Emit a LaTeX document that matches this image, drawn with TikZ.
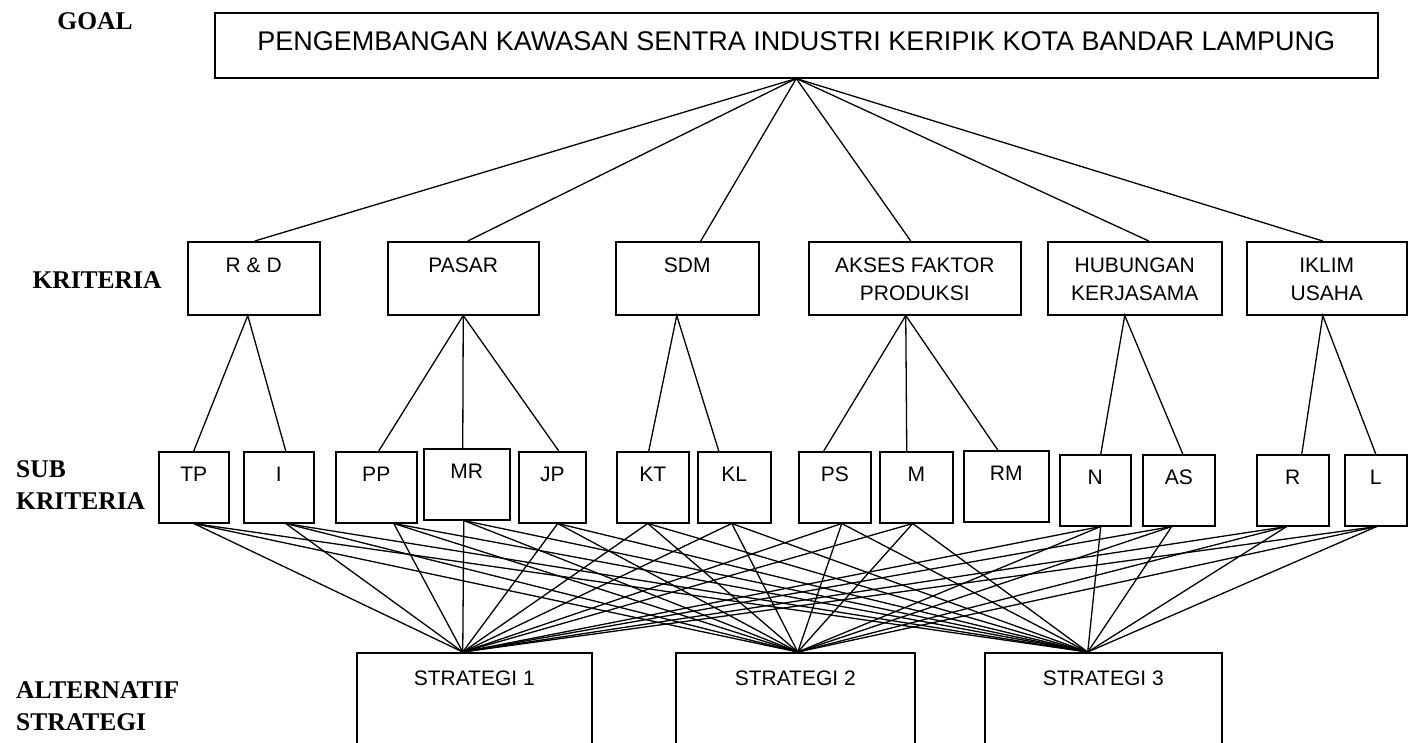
\documentclass[tikz,border=0pt]{standalone}
\usepackage{fontspec}
\setmainfont{Liberation Serif}
\setsansfont{Liberation Sans}
\begin{document}
\begin{tikzpicture}[x=1pt,y=-1pt,
  box/.style={draw,line width=1.5pt,inner sep=0pt,anchor=north west},
  boxtext/.style={font=\sffamily\fontsize{21}{28}\selectfont,align=center,inner sep=0pt,anchor=north},
  level/.style={font=\bfseries\fontsize{25.5}{32}\selectfont,align=left,inner sep=0pt},
  link/.style={line width=1.3pt}]
\useasboundingbox (0,0) rectangle (1411,742);
\clip (0,0) rectangle (1411,742);

\node[level] (goal-lbl) at (95,21) {GOAL};
\node[level] (krit-lbl) at (97,280) {KRITERIA};
\node[level,anchor=west] (sub-lbl) at (16,485) {SUB\\KRITERIA};
\node[level,anchor=west] (alt-lbl) at (16,706) {ALTERNATIF\\STRATEGI};

\node[box,minimum width=1163,minimum height=65,
  label={[boxtext,font=\sffamily\fontsize{27}{30}\selectfont,yshift=-19pt]north:PENGEMBANGAN KAWASAN SENTRA INDUSTRI KERIPIK KOTA BANDAR LAMPUNG}]
  (goal) at (214,12) {};

\node[box,minimum width=132,minimum height=73,label={[boxtext,yshift=-17pt]north:R \& D}] (rd) at (187,241) {};
\node[box,minimum width=151,minimum height=73,label={[boxtext,yshift=-17pt]north:PASAR}] (pasar) at (387,241) {};
\node[box,minimum width=143,minimum height=73,label={[boxtext,yshift=-17pt]north:SDM}] (sdm) at (615,241) {};
\node[box,minimum width=212,minimum height=73,label={[boxtext,yshift=-17pt]north:AKSES FAKTOR\\PRODUKSI}] (akses) at (808,241) {};
\node[box,minimum width=174,minimum height=73,label={[boxtext,yshift=-17pt]north:HUBUNGAN\\KERJASAMA}] (hub) at (1047,241) {};
\node[box,minimum width=160,minimum height=73,label={[boxtext,yshift=-17pt]north:IKLIM\\USAHA}] (iklim) at (1246,241) {};

\node[box,minimum width=70,minimum height=71,label={[boxtext,yshift=-16pt]north:TP}] (tp) at (158,451) {};
\node[box,minimum width=70,minimum height=71,label={[boxtext,yshift=-16pt]north:I}] (i) at (243,451) {};
\node[box,minimum width=81,minimum height=71,label={[boxtext,yshift=-16pt]north:PP}] (pp) at (335,451) {};
\node[box,minimum width=86,minimum height=71,label={[boxtext,yshift=-16pt]north:MR}] (mr) at (423,448) {};
\node[box,minimum width=67,minimum height=71,label={[boxtext,yshift=-16pt]north:JP}] (jp) at (518,451) {};
\node[box,minimum width=72,minimum height=71,label={[boxtext,yshift=-16pt]north:KT}] (kt) at (616,451) {};
\node[box,minimum width=73,minimum height=71,label={[boxtext,yshift=-16pt]north:KL}] (kl) at (697,451) {};
\node[box,minimum width=72,minimum height=71,label={[boxtext,yshift=-16pt]north:PS}] (ps) at (798,451) {};
\node[box,minimum width=73,minimum height=71,label={[boxtext,yshift=-16pt]north:M}] (m) at (879,451) {};
\node[box,minimum width=85,minimum height=71,label={[boxtext,yshift=-16pt]north:RM}] (rm) at (963,450) {};
\node[box,minimum width=71,minimum height=71,label={[boxtext,yshift=-16pt]north:N}] (n) at (1059,454) {};
\node[box,minimum width=72,minimum height=71,label={[boxtext,yshift=-16pt]north:AS}] (as) at (1142,454) {};
\node[box,minimum width=72,minimum height=71,label={[boxtext,yshift=-16pt]north:R}] (r) at (1256,454) {};
\node[box,minimum width=62,minimum height=71,label={[boxtext,yshift=-16pt]north:L}] (l) at (1344,454) {};

\node[box,minimum width=235,minimum height=120,label={[boxtext,yshift=-19pt]north:STRATEGI 1}] (st1) at (356,652) {};
\node[box,minimum width=239,minimum height=120,label={[boxtext,yshift=-19pt]north:STRATEGI 2}] (st2) at (675,652) {};
\node[box,minimum width=237,minimum height=120,label={[boxtext,yshift=-19pt]north:STRATEGI 3}] (st3) at (984,652) {};

\draw[link] (goal.south) -- ([xshift=1pt]rd.north);
\draw[link] (goal.south) -- ([xshift=4.5pt]pasar.north);
\draw[link] (goal.south) -- ([xshift=13.5pt]sdm.north);
\draw[link] (goal.south) -- ([xshift=-4pt]akses.north);
\draw[link] (goal.south) -- ([xshift=14pt]hub.north);
\draw[link] (goal.south) -- ([xshift=-4pt]iklim.north);

\draw[link] (tp.north) -- ([xshift=-6pt]rd.south) -- ([xshift=7pt]i.north);
\draw[link] ([xshift=2.5pt]pp.north) -- (pasar.south) -- ([xshift=6.5pt]jp.north);
\draw[link] (pasar.south) -- ([xshift=-4pt]mr.north);
\draw[link] ([xshift=-4pt]kt.north) -- ([xshift=-10.5pt]sdm.south) -- ([xshift=-15.5pt]kl.north);
\draw[link] ([xshift=-11pt]ps.north) -- ([xshift=-9pt]akses.south) -- ([xshift=-8.5pt]rm.north);
\draw[link] ([xshift=-9pt]akses.south) -- ([xshift=-9.5pt]m.north);
\draw[link] ([xshift=5.5pt]n.north) -- ([xshift=-10pt]hub.south) -- ([xshift=4pt]as.north);
\draw[link] ([xshift=9pt]r.north) -- ([xshift=-4pt]iklim.south) -- (l.north);

\coordinate (tp-b) at (tp.south);
\coordinate (i-b) at ([xshift=7pt]i.south);
\coordinate (pp-b) at ([xshift=17.5pt]pp.south);
\coordinate (mr-b) at ([xshift=-3pt]mr.south);
\coordinate (jp-b) at ([xshift=5.5pt]jp.south);
\coordinate (kt-b) at ([xshift=-5pt]kt.south);
\coordinate (kl-b) at ([xshift=-2.5pt]kl.south);
\coordinate (ps-b) at ([xshift=7pt]ps.south);
\coordinate (m-b) at ([xshift=-3.5pt]m.south);
\coordinate (n-b) at ([xshift=5.5pt]n.south);
\coordinate (as-b) at ([xshift=-7pt]as.south);
\coordinate (r-b) at ([xshift=-6pt]r.south);
\coordinate (l-b) at ([xshift=1pt]l.south);
\coordinate (st1-t) at ([xshift=-11.5pt]st1.north);
\coordinate (st2-t) at ([xshift=2.5pt]st2.north);
\coordinate (st3-t) at ([xshift=-15.5pt]st3.north);

\foreach \s in {tp,i,pp,mr,jp,kt,kl,ps,m,n,as,r,l}
  \foreach \t in {st1,st2,st3}
    \draw[link] (\s-b) -- (\t-t);
\end{tikzpicture}
\end{document}
